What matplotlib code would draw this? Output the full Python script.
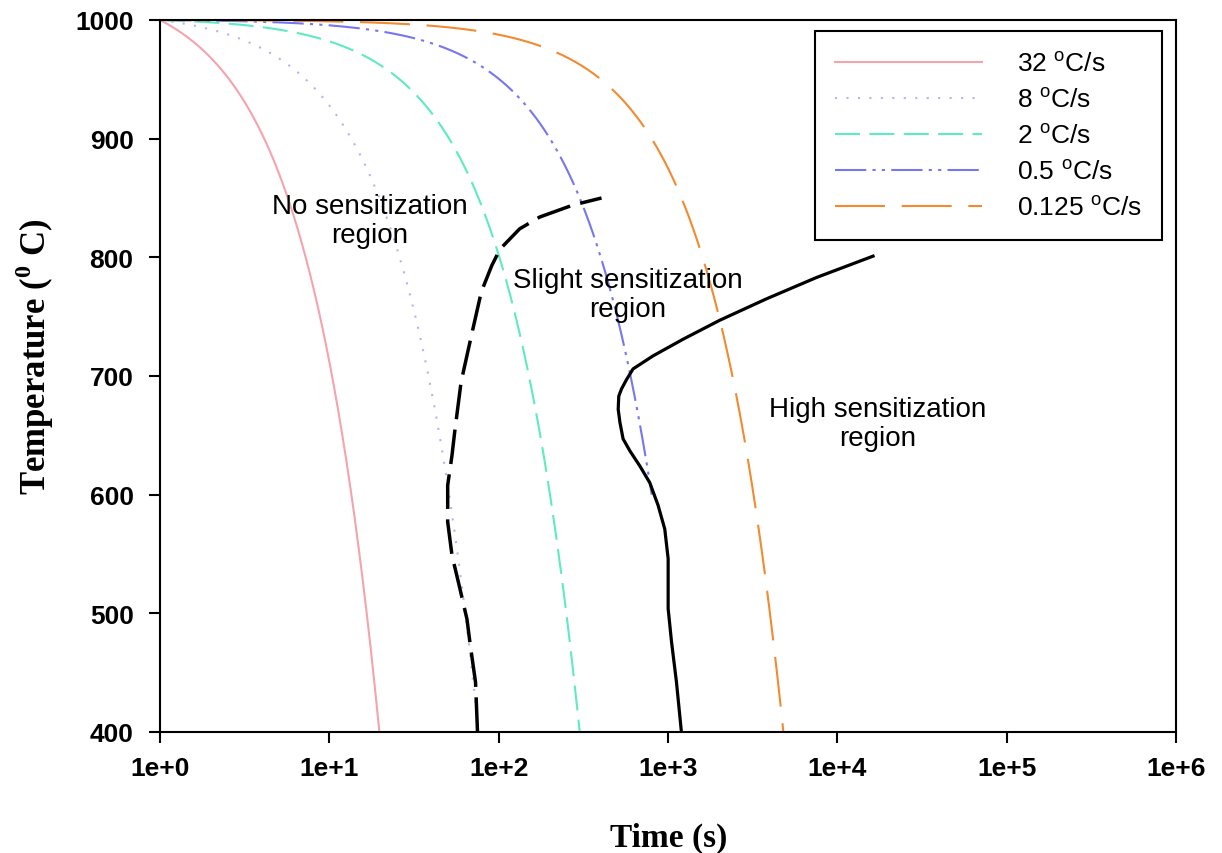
import numpy as np
import matplotlib
matplotlib.use('Agg')
import matplotlib.pyplot as plt

plt.rcParams['font.family'] = ['Liberation Sans', 'DejaVu Sans']
plt.rcParams['mathtext.fontset'] = 'custom'
plt.rcParams['mathtext.rm'] = 'Liberation Sans'
plt.rcParams['mathtext.bf'] = 'Liberation Serif:bold'

# cooling rates (deg C/s) from the legend, start at 1000 C at t = 1 s
rates = [32, 8, 2, 0.5, 0.125]
rate_labels = ['32', '8', '2', '0.5', '0.125']
stop_temps = [400, 400, 400, 600, 400]
start_temp = 1000
start_time = 1

# boundary between no / slight sensitization (dashed black)
t_slight = [75, 73, 68, 65, 59, 53, 50, 50, 53, 55, 60, 69, 79, 91, 102, 133, 175, 274, 405]
T_slight = [400, 442, 473, 495, 521, 549, 577, 608, 633, 653, 695, 734, 771, 793, 807, 824, 834, 844, 850]

# boundary between slight / high sensitization (solid black)
t_high = [1200, 1122, 1049, 1002, 1002, 1002, 957, 874, 781, 683, 595, 543, 520, 508,
          512, 531, 569, 622, 817, 1228, 2023, 3812, 7530, 16250]
T_high = [400, 442, 476, 504, 515, 546, 571, 591, 610, 624, 637, 647, 661, 672,
          683, 689, 697, 706, 717, 731, 747, 765, 783, 801]

colors = ['#F5A3AE', '#B4B4EE', '#5EEAC2', '#7676EE', '#F28A30']
styles = ['-', (0, (1, 4.5)), (0, (12, 4.5)), (0, (15, 3, 1.5, 3, 1.5, 3)), (0, (24, 8))]

fig = plt.figure(figsize=(12.22, 8.54), dpi=100)
ax = fig.add_axes([160 / 1222, 1 - 733 / 854, 1016 / 1222, 712 / 854])

for r, lab, Tstop, c, ls in zip(rates, rate_labels, stop_temps, colors, styles):
    t_end = start_time + (start_temp - Tstop) / r
    t = np.geomspace(start_time, t_end, 600)
    T = start_temp - r * (t - start_time)
    ax.plot(t, T, color=c, ls=ls, lw=1.5, label=lab + r' $^{\mathrm{o}}$C/s')

ax.plot(t_slight, T_slight, color='black', lw=2.5, ls=(0, (10, 3)), zorder=5)
ax.plot(t_high, T_high, color='black', lw=2.3, zorder=5)

ax.set_xscale('log')
ax.set_xlim(1, 1e6)
ax.set_ylim(400, 1000)
ax.set_xticks([1e0, 1e1, 1e2, 1e3, 1e4, 1e5, 1e6])
ax.set_xticklabels(['1e+0', '1e+1', '1e+2', '1e+3', '1e+4', '1e+5', '1e+6'])
ax.xaxis.set_minor_locator(matplotlib.ticker.NullLocator())
ax.set_yticks([400, 500, 600, 700, 800, 900, 1000])
ax.tick_params(axis='both', length=8, width=1.5, labelsize=19)
ax.tick_params(axis='x', pad=9)
ax.tick_params(axis='y', pad=11)
for lbl in ax.get_xticklabels() + ax.get_yticklabels():
    lbl.set_fontweight('bold')
for s in ax.spines.values():
    s.set_linewidth(1.5)

ax.set_xlabel('Time (s)', family='Liberation Serif', fontweight='bold', fontsize=24)
ax.set_ylabel(r'Temperature ($^{\mathbf{0}}$ C)', family='Liberation Serif',
              fontweight='bold', fontsize=25)
ax.xaxis.set_label_coords(0.501, -0.126)
ax.yaxis.set_label_coords(-0.102, 0.528)

ax.text(0.2067, 0.719, 'No sensitization\nregion', transform=ax.transAxes,
        ha='center', va='center', fontsize=20, linespacing=1.15)
ax.text(0.4606, 0.6138, 'Slight sensitization\nregion', transform=ax.transAxes,
        ha='center', va='center', fontsize=20, linespacing=1.15)
ax.text(0.7067, 0.4326, 'High sensitization\nregion', transform=ax.transAxes,
        ha='center', va='center', fontsize=20, linespacing=1.15)

leg = ax.legend(loc='upper right', bbox_to_anchor=(0.986, 0.984), fontsize=19,
                handlelength=5.6, handletextpad=1.3, labelspacing=0.43,
                borderpad=0.75, fancybox=False, framealpha=1, borderaxespad=0)
leg.get_frame().set_edgecolor('black')
leg.get_frame().set_linewidth(1.5)

fig.savefig('out.png', dpi=100)
